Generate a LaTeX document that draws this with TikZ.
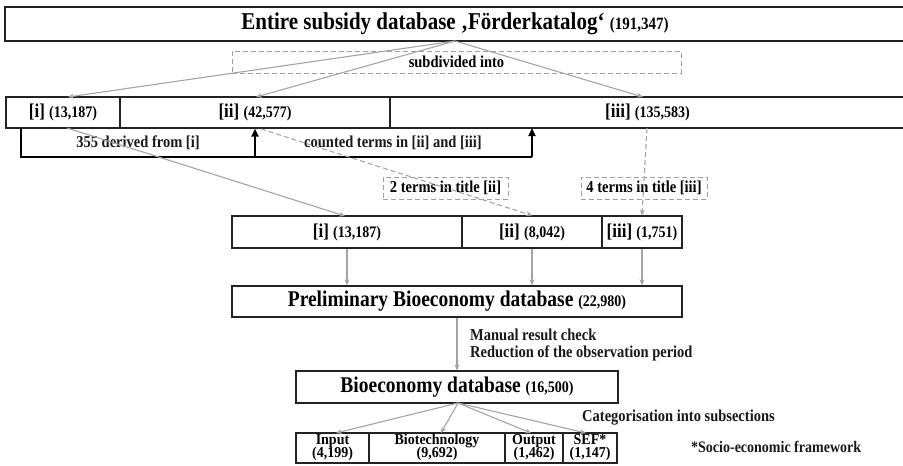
\documentclass[tikz,border=0pt]{standalone}
\usepackage{fontspec}
\usepackage{graphicx}
\setmainfont{Liberation Serif}
\usetikzlibrary{arrows.meta,calc}
\definecolor{arr}{RGB}{165,165,165}
\definecolor{dsh}{RGB}{160,160,160}
\definecolor{bord}{RGB}{35,35,35}
\newcommand{\fbig}{\fontsize{19.5}{22}\selectfont\bfseries}
\newcommand{\ftitle}{\fontsize{21}{23}\selectfont\bfseries}
\newcommand{\fbr}{\fontsize{17}{19}\selectfont\bfseries}
\newcommand{\fnum}{\fontsize{14}{16}\selectfont\bfseries}
\newcommand{\fnumt}{\fontsize{15}{16}\selectfont\bfseries}
\newcommand{\flab}{\fontsize{14.5}{16}\selectfont\bfseries}
\newcommand{\vs}[1]{\scalebox{1}[1.15]{#1}}
\newcommand{\two}[2]{\scalebox{1}[1.08]{\begin{tabular}{@{}c@{}}#1\\[-1.5pt]#2\end{tabular}}}
\tikzset{
  box/.style={draw=bord, line width=1.1pt, inner sep=0pt, rectangle, align=center},
  dbox/.style={draw=dsh, line width=1pt, dash pattern=on 5pt off 3pt, inner sep=0pt, rectangle, font=\flab},
  garrow/.style={draw=arr, line width=1.1pt, -{Stealth[length=6pt,width=5pt]}},
  darrow/.style={draw=arr, line width=1.1pt, dash pattern=on 5pt off 3pt, -{Stealth[length=6pt,width=5pt]}},
  bline/.style={draw=black, line width=2.4pt},
  barrow/.style={draw=black, line width=2.4pt, -{Triangle[length=8pt,width=7pt]}},
  lbl/.style={inner sep=0pt, font=\flab, text=black!90}
}
\begin{document}
\begin{tikzpicture}[x=1pt,y=-1pt]
\useasboundingbox[fill=white] (0,0) rectangle (903,466);
% top box
\node[box, minimum width=900pt, minimum height=34pt] (top) at (455,24)
  {\vs{\ftitle Entire subsidy database ‚Förderkatalog‘ {\fnumt (191,347)}}};
\node[dbox, minimum width=449pt, minimum height=22pt] (subdiv) at (456.5,62) {\vs{subdivided into}};
% row 1
\node[box, minimum width=114pt, minimum height=31pt] (ri) at (63,112.5) {\vs{\fbr [i] {\fnum (13,187)}}};
\node[box, minimum width=270pt, minimum height=31pt] (rii) at (255,112.5) {\vs{\fbr [ii] {\fnum (42,577)}}};
\node[box, minimum width=515pt, minimum height=31pt] (riii) at (647.5,112.5) {\vs{\fbr [iii] {\fnum (135,583)}}};
\coordinate (fan) at (455,41);
\draw[garrow] (fan) -- (68,97);
\draw[garrow] (fan) -- (256,97);
\draw[garrow] (fan) -- (643,97);
% bracket
\coordinate (b0) at (21,128);
\coordinate (b1) at (21,157);
\coordinate (b2) at (532,157);
\coordinate (b3) at (255,157);
\coordinate (b4) at (532,128);
\draw[bline] (b0) -- (b1) -- (b2);
\draw[barrow] (b3) -- (rii.south);
\draw[barrow] (b2) -- (b4);
\node[lbl] (derived) at (138,143) {\vs{355 derived from [i]}};
\node[lbl] (counted) at (393,143) {\vs{counted terms in [ii] and [iii]}};
% row 2
\node[box, minimum width=230pt, minimum height=32pt] (si) at (347,232) {\vs{\fbr [i] {\fnum (13,187)}}};
\node[box, minimum width=140pt, minimum height=32pt] (sii) at (532,232) {\vs{\fbr [ii] {\fnum (8,042)}}};
\node[box, minimum width=80pt, minimum height=32pt] (siii) at (642,232) {\vs{\fbr [iii] {\fnum (1,751)}}};
\node[dbox, minimum width=125pt, minimum height=22pt] (t2) at (445.5,188) {\vs{2 terms in title [ii]}};
\node[dbox, minimum width=126pt, minimum height=22pt] (t4) at (644,188) {\vs{4 terms in title [iii]}};
\coordinate (gi) at (67,128);
\coordinate (dii) at (261,129);
\coordinate (diii) at (647,128);
\draw[garrow] (gi) -- (345,216);
\draw[darrow] (dii) -- (sii.north);
\draw[darrow] (diii) -- (siii.north);
% preliminary
\node[box, minimum width=450pt, minimum height=31pt] (pre) at (457,301.5)
  {\vs{\fbig Preliminary Bioeconomy database {\fnum (22,980)}}};
\draw[garrow] (si.south) -- (si.south |- pre.north);
\draw[garrow] (sii.south) -- (sii.south |- pre.north);
\draw[garrow] (siii.south) -- (siii.south |- pre.north);
% bioeconomy
\node[box, minimum width=322pt, minimum height=32pt] (bio) at (457,387)
  {\vs{\fbig Bioeconomy database {\fnum (16,500)}}};
\draw[garrow] (pre.south) -- (pre.south |- bio.north);
\node[lbl, anchor=west] (manual) at (470,345)
  {\vs{\begin{tabular}{@{}l@{}}Manual result check\\[-1pt]Reduction of the observation period\end{tabular}}};
% bottom row
\tikzset{sbox/.style={box, minimum height=30pt, font=\fontsize{14}{14}\selectfont\bfseries}}
\node[sbox, minimum width=73pt] (inp) at (332.5,448) {\two{Input}{(4,199)}};
\node[sbox, minimum width=136pt] (bt) at (437,448) {\two{Biotechnology}{(9,692)}};
\node[sbox, minimum width=58pt] (out) at (534,448) {\two{Output}{(1,462)}};
\node[sbox, minimum width=54pt] (sef) at (590,448) {\two{SEF*}{(1,147)}};
\coordinate (bfan) at (458,403);
\draw[garrow] (bfan) -- (336,433);
\draw[garrow] (bfan) -- (441,433);
\draw[garrow] (bfan) -- (531,433);
\draw[garrow] (bfan) -- (586,433);
\node[lbl, anchor=west] (cat) at (582,418) {\vs{Categorisation into subsections}};
\node[lbl, anchor=west, font=\fontsize{14}{16}\selectfont\bfseries] (sefnote) at (691,447) {\vs{*Socio-economic framework}};
\end{tikzpicture}
\end{document}
